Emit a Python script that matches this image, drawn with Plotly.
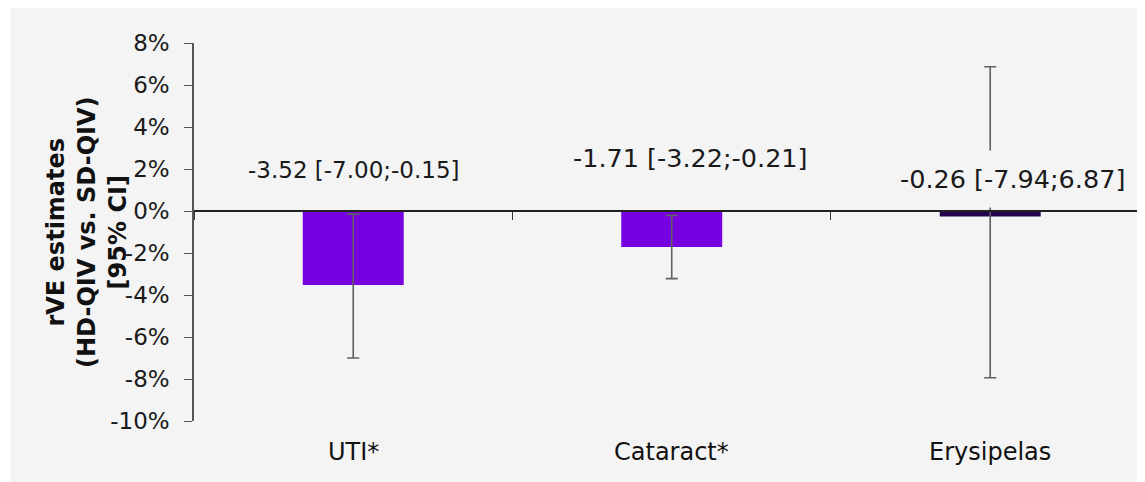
import plotly.graph_objects as go

categories = ["UTI*", "Cataract*", "Erysipelas"]
rve = [-3.52, -1.71, -0.26]
ci_low = [-7.00, -3.22, -7.94]
ci_high = [-0.15, -0.21, 6.87]
bar_colors = ["#7700e0", "#7700e0", "#25004f"]
y_ticks = [-10, -8, -6, -4, -2, 0, 2, 4, 6, 8]
y_ticktext = [f"{v}%" for v in y_ticks]

labels = [f"{v:.2f} [{lo:.2f};{hi:.2f}]" for v, lo, hi in zip(rve, ci_low, ci_high)]
err_plus = [hi - v for v, hi in zip(rve, ci_high)]
err_minus = [v - lo for v, lo in zip(rve, ci_low)]

FONT = "DejaVu Sans, Verdana, sans-serif"
BG = "#f4f4f4"

fig = go.Figure()
fig.add_trace(go.Bar(
    x=categories, y=rve, width=0.317,
    marker=dict(color=bar_colors, line=dict(width=0)),
    error_y=dict(type="data", symmetric=False, array=err_plus, arrayminus=err_minus,
                 color="#606060", thickness=1.6, width=6),
    showlegend=False, hoverinfo="skip",
))

# data labels: pixel offsets relative to bar center at zero line
xshifts = [1, 18.5, 22]
yshifts = [41.5, 53.5, 32.5]
label_sizes = [23, 25.5, 25.5]
for c, t, xs, ys, fs in zip(categories, labels, xshifts, yshifts, label_sizes):
    fig.add_annotation(x=c, y=0, xref="x", yref="y", text=t, showarrow=False,
                       xanchor="center", yanchor="middle", xshift=xs, yshift=ys,
                       font=dict(family=FONT, size=fs, color="#1a1a1a"),
                       bgcolor=BG, borderpad=13)

# category names at the bottom
for c in categories:
    fig.add_annotation(x=c, y=0, xref="x", yref="paper", text=c, showarrow=False,
                       xanchor="center", yanchor="middle", yshift=-31,
                       font=dict(family=FONT, size=24, color="#111111"))

fig.add_annotation(text="<b>rVE estimates<br>(HD-QIV vs. SD-QIV)<br>[95% CI]</b>",
                   xref="paper", yref="paper", x=0, y=0.5, xshift=-107,
                   xanchor="center", yanchor="middle", textangle=-90, showarrow=False,
                   font=dict(family=FONT, size=24, color="#111111"))

# light gray chart area (white strip on the far left)
fig.add_shape(type="rect", xref="paper", yref="paper", x0=-0.193, x1=1.05,
              y0=-0.3, y1=1.2, fillcolor=BG, line=dict(width=0), layer="below")

fig.update_layout(
    width=1137, height=474,
    margin=dict(l=186, r=0, t=35, b=61),
    paper_bgcolor="white", plot_bgcolor="rgba(0,0,0,0)",
    font=dict(family=FONT, color="#1a1a1a"),
    xaxis=dict(type="category", range=[-0.5, 2.486], anchor="free", position=10/18,
               tickson="boundaries", ticks="outside", ticklen=8, tickwidth=1.3,
               tickcolor="#333333", showticklabels=False,
               showline=True, linecolor="#222222", linewidth=1.5,
               showgrid=False, zeroline=False),
    yaxis=dict(range=[-10, 8], tickvals=y_ticks, ticktext=y_ticktext, ticks="outside",
               ticklen=8, tickwidth=1.3, tickcolor="#555555", showline=True,
               linecolor="#555555", linewidth=1.5, showgrid=False,
               zeroline=False, ticklabelstandoff=10,
               tickfont=dict(family=FONT, size=23, color="#1a1a1a")),
)

fig.write_html("out.html")
